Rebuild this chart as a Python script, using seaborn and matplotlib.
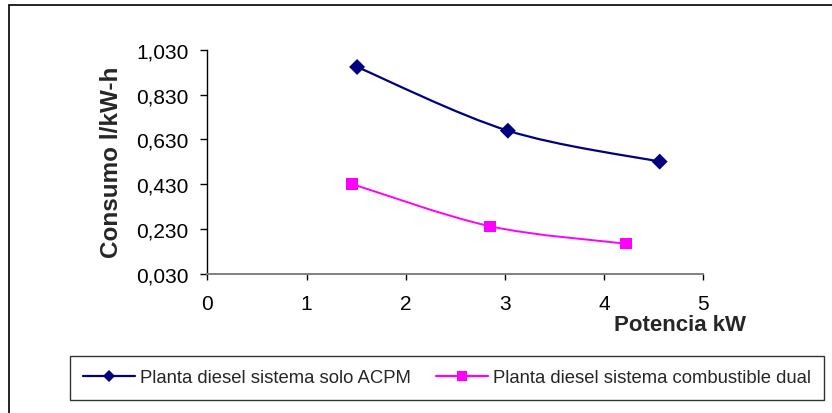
import matplotlib
matplotlib.use("Agg")
import matplotlib.pyplot as plt
import seaborn as sns
import pandas as pd
from matplotlib.path import Path
from matplotlib.patches import PathPatch, Rectangle
from matplotlib.lines import Line2D

# ---- data ----
series_names = ["Planta diesel sistema solo ACPM", "Planta diesel sistema combustible dual"]
potencia_acpm = [1.51, 3.03, 4.56]
consumo_acpm = [0.953, 0.669, 0.531]
potencia_dual = [1.46, 2.85, 4.22]
consumo_dual = [0.431, 0.243, 0.165]
y_ticks = [0.030, 0.230, 0.430, 0.630, 0.830, 1.030]
y_tick_labels = ["0,030", "0,230", "0,430", "0,630", "0,830", "1,030"]
x_ticks = [0, 1, 2, 3, 4, 5]
x_tick_labels = ["0", "1", "2", "3", "4", "5"]
x_label = "Potencia kW"
y_label = "Consumo l/kW-h"

colors = {series_names[0]: "#000080", series_names[1]: "#FF00FF"}
markers = {series_names[0]: "D", series_names[1]: "s"}

df = pd.DataFrame({
    "kW": potencia_acpm + potencia_dual,
    "consumo": consumo_acpm + consumo_dual,
    "serie": [series_names[0]] * len(potencia_acpm) + [series_names[1]] * len(potencia_dual),
})

sns.set_style("white")
plt.rcParams["font.family"] = ["Liberation Sans", "DejaVu Sans"]

fig = plt.figure(figsize=(8.32, 4.14), dpi=100)
ax = fig.add_axes([207.3 / 832, 1 - 275 / 414, 496 / 832, 224.3 / 414])


def smooth_path(xs, ys):
    pts = list(zip(xs, ys))
    n = len(pts)
    verts = [pts[0]]
    codes = [Path.MOVETO]
    for i in range(n - 1):
        p0 = pts[i - 1] if i > 0 else pts[i]
        p1 = pts[i]
        p2 = pts[i + 1]
        p3 = pts[i + 2] if i + 2 < n else pts[i + 1]
        c1 = (p1[0] + (p2[0] - p0[0]) / 6, p1[1] + (p2[1] - p0[1]) / 6)
        c2 = (p2[0] - (p3[0] - p1[0]) / 6, p2[1] - (p3[1] - p1[1]) / 6)
        verts += [c1, c2, p2]
        codes += [Path.CURVE4] * 3
    return Path(verts, codes)


line_widths = {series_names[0]: 1.6, series_names[1]: 1.4}
for name, xs, ys in [(series_names[0], potencia_acpm, consumo_acpm),
                     (series_names[1], potencia_dual, consumo_dual)]:
    ax.add_patch(PathPatch(smooth_path(xs, ys), facecolor="none",
                           edgecolor=colors[name], lw=line_widths[name], zorder=2))

sns.scatterplot(data=df, x="kW", y="consumo", hue="serie", style="serie",
                palette=colors, markers=markers, legend=False, ax=ax,
                s=66, linewidth=0, zorder=3)

ax.set_xlim(0, 5)
ax.set_ylim(0.030, 1.030)
ax.set_xticks(x_ticks)
ax.set_xticklabels(x_tick_labels)
ax.set_yticks(y_ticks)
ax.set_yticklabels(y_tick_labels)

for s in ["top", "right"]:
    ax.spines[s].set_visible(False)
ax.spines["left"].set_color("black")
ax.spines["left"].set_linewidth(1.0)
ax.spines["bottom"].set_color("#808080")
ax.spines["bottom"].set_linewidth(1.4)

ax.tick_params(axis="y", direction="out", length=5, width=1, color="black",
               pad=8.5, labelsize=15, labelcolor="black", left=True)
ax.tick_params(axis="x", direction="out", length=4, width=1, color="black",
               pad=10.5, labelsize=15, labelcolor="black", bottom=True)

ax.set_xlabel(x_label, fontsize=16, fontweight="bold", va="center", ha="center")
ax.xaxis.set_label_coords((680.5 - 207.3) / 496, (275 - 326) / 224.3)
ax.set_ylabel(y_label, fontsize=17.5, fontweight="bold", va="center", ha="center")
ax.yaxis.set_label_coords((112 - 207.3) / 496, (275 - 162.5) / 224.3)

handles = [Line2D([0], [0], color=colors[n], marker=markers[n], lw=1.6,
                  markersize=(7.8 if markers[n] == "s" else 6.4), markeredgewidth=0)
           for n in series_names]
leg = fig.legend(handles, series_names, loc="center",
                 bbox_to_anchor=(447 / 832, 1 - 379 / 414), ncol=2,
                 frameon=True, fancybox=False, shadow=False, fontsize=13.3,
                 handlelength=2.8, handletextpad=0.27, columnspacing=1.4,
                 borderpad=0.72)
leg.get_frame().set_edgecolor("black")
leg.get_frame().set_linewidth(1.0)

fig.patches.append(Rectangle((9 / 832, -0.1), 1.0, 1 - 6 / 414 + 0.1,
                             transform=fig.transFigure, fill=False,
                             edgecolor="black", lw=1.2, clip_on=False))

fig.savefig("out.png", dpi=100, facecolor="white")
